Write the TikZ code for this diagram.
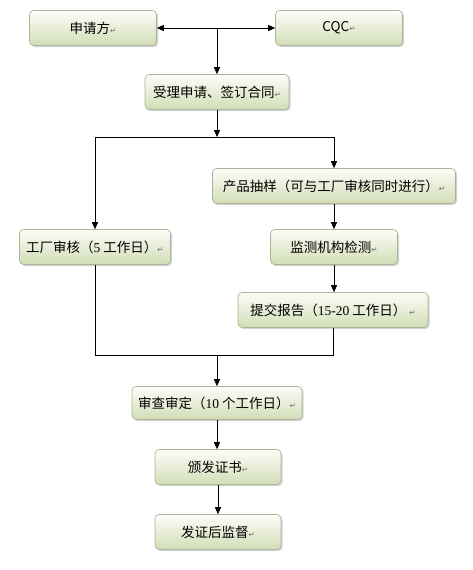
\documentclass[tikz,border=0pt]{standalone}
\usepackage{fontspec}
\setmainfont{Noto Sans CJK SC}
\newfontfamily\numfont{Liberation Serif}
\newfontfamily\symfont{DejaVu Sans}
\usepackage{tikz}
\usetikzlibrary{arrows.meta,shadows,calc}
\definecolor{boxtop}{RGB}{252,253,248}
\definecolor{boxbottom}{RGB}{210,221,182}
\definecolor{boxedge}{RGB}{170,180,150}
\definecolor{markgray}{RGB}{110,110,110}
\newcommand{\pmark}{{\color{markgray}\symfont\fontsize{7.5}{7.5}\selectfont ↵}}
\newcommand{\nm}[1]{{\numfont #1}}

\begin{document}
\begin{tikzpicture}[x=1pt, y=1pt,
    every node/.style={font=\fontsize{13.5}{15}\selectfont},
    flowbox/.style={draw=boxedge, line width=0.6pt, rounded corners=4pt,
      top color=boxtop, bottom color=boxbottom, minimum height=35pt,
      inner sep=0pt, text=black,
      drop shadow={shadow xshift=1.5pt, shadow yshift=-1.5pt, opacity=0.35}},
    arr/.style={-{Triangle[length=7pt,width=6pt]}, line width=0.9pt},
    link/.style={line width=0.9pt}]
  \useasboundingbox (0,0) rectangle (472,-570);

  % top row
  \node[flowbox, minimum width=127pt] (app) at (93,-28) {申请方\pmark};
  \node[flowbox, minimum width=127pt] (cqc) at (339,-28) {CQC\pmark};
  \node[flowbox, minimum width=144pt] (accept) at (217,-92) {受理申请、签订合同\pmark};

  % two branches
  \node[flowbox, minimum width=243pt] (sample) at (334,-186) {产品抽样（可与工厂审核同时进行）\pmark};
  \node[flowbox, minimum width=151pt] (audit) at (95,-247) {工厂审核（\nm{5} 工作日）\pmark};
  \node[flowbox, minimum width=127pt] (test) at (334,-247) {监测机构检测\pmark};
  \node[flowbox, minimum width=190pt] (report) at (333,-310) {提交报告（\nm{15-20} 工作日） \pmark};

  % final steps
  \node[flowbox, minimum width=170pt, minimum height=33pt] (review) at (217,-403) {审查审定（\nm{10} 个工作日）\pmark};
  \node[flowbox, minimum width=126pt] (issue) at (218,-467) {颁发证书\pmark};
  \node[flowbox, minimum width=126pt] (watch) at (218,-532) {发证后监督\pmark};

  % connectors
  \coordinate (j1) at (app.east -| accept.north);
  \coordinate (split) at (217,-137);
  \coordinate (merge) at (217,-355);
  \draw[arr, {Triangle[length=7pt,width=6pt]}-{Triangle[length=7pt,width=6pt]}] (app.east) -- (cqc.west);
  \draw[arr] (j1) -- (accept.north);
  \draw[arr] (accept.south) -- (split);
  \draw[arr] (split) -| (audit.north);
  \draw[arr] (split) -| (sample.north);
  \draw[arr] (sample.south) -- (test.north);
  \draw[arr] (test.south) -- (report.north -| test.south);
  \draw[link] (audit.south) |- (merge);
  \draw[link] (report.south) |- (merge);
  \draw[arr] (merge) -- (review.north);
  \draw[arr] (review.south) -- (review.south |- issue.north);
  \draw[arr] (issue.south) -- (watch.north);
\end{tikzpicture}
\end{document}
